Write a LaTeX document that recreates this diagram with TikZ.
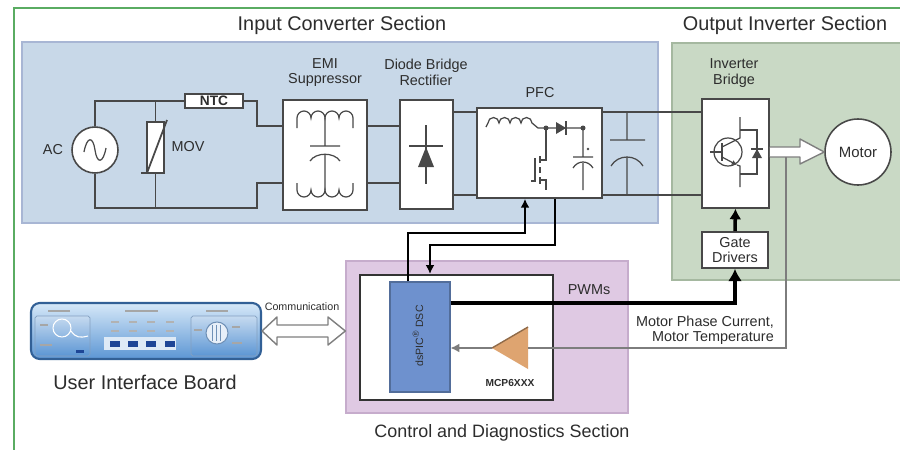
\documentclass[tikz,border=0pt]{standalone}
\usepackage{fontspec}
\setmainfont{Liberation Sans}
\usetikzlibrary{arrows.meta}

\definecolor{inblue}{RGB}{200,216,232}
\definecolor{inblueline}{RGB}{168,182,212}
\definecolor{outgreen}{RGB}{201,217,197}
\definecolor{outgreenline}{RGB}{165,184,160}
\definecolor{ctrlpink}{RGB}{223,201,227}
\definecolor{ctrlpinkline}{RGB}{198,172,204}
\definecolor{dscblue}{RGB}{110,145,206}
\definecolor{ampfill}{RGB}{222,164,112}
\definecolor{framegreen}{RGB}{90,172,98}
\definecolor{wiregray}{RGB}{72,72,72}
\definecolor{fbgray}{RGB}{125,125,125}
\definecolor{txt}{RGB}{45,45,45}
\definecolor{uilight}{RGB}{214,232,248}
\definecolor{uimid}{RGB}{92,150,212}
\definecolor{uiedge}{RGB}{50,96,150}
\definecolor{uidark}{RGB}{30,70,150}

\begin{document}
\begin{tikzpicture}[x=0.02cm, y=-0.02cm,
  wire/.style={draw=wiregray, line width=0.9pt},
  sym/.style={draw=wiregray, line width=0.7pt},
  blk/.style={draw=wiregray, fill=white, line width=0.9pt, inner sep=0pt},
  panel/.style={line width=0.8pt, inner sep=0pt},
  sectitle/.style={font=\fontsize{11.3}{13}\selectfont, text=txt},
  lbl/.style={font=\fontsize{8.2}{8.8}\selectfont, text=txt, align=center},
  ctl/.style={draw=black, line width=1.4pt, -{Latex[length=5pt,width=5pt]}},
  fb/.style={draw=fbgray, line width=0.8pt},
  hollow/.style={draw=wiregray!70, fill=white, line width=0.8pt, line join=round}]

  \useasboundingbox (0,0) rectangle (900,450);
  \fill[white] (0,0) rectangle (900,450);

  % Outer frame
  \draw[framegreen, line width=1.3pt] (14,452) -- (14,8) -- (902,8);

  % Section backgrounds
  \node[panel, fill=inblue, draw=inblueline, minimum width=12.72cm, minimum height=3.62cm] (inpanel) at (340,132.5) {};
  \node[panel, fill=outgreen, draw=outgreenline, minimum width=4.6cm, minimum height=4.74cm] (outpanel) at (787,161.5) {};
  \node[panel, fill=ctrlpink, draw=ctrlpinkline, minimum width=5.64cm, minimum height=3.04cm] (ctrlpanel) at (487,337) {};
  \node[panel, fill=white, draw=black!80, line width=1.2pt, minimum width=3.86cm, minimum height=2.5cm] (ctrl) at (456.5,337.5) {};

  % Section titles
  \node[sectitle] (intitle) at (342,25) {Input Converter Section};
  \node[sectitle] (outtitle) at (785,25) {Output Inverter Section};
  \node[sectitle, font=\fontsize{10.2}{12}\selectfont] (ctrltitle) at (502,433) {Control and Diagnostics Section};
  \node[sectitle] (uititle) at (145,382) {User Interface Board};

  % Power stage blocks
  \node[blk, circle, minimum size=0.92cm] (ac) at (95,150) {};
  \node[blk, minimum width=1.16cm, minimum height=0.28cm, font=\fontsize{7.8}{8}\selectfont\bfseries, text=txt] (ntc) at (214,101) {NTC};
  \node[blk, minimum width=0.34cm, minimum height=1.02cm] (mov) at (155.5,147.5) {};
  \node[blk, minimum width=1.68cm, minimum height=2.2cm] (emi) at (325,155) {};
  \node[blk, minimum width=1.06cm, minimum height=2.18cm] (bridge) at (426.5,154.5) {};
  \node[blk, minimum width=2.5cm, minimum height=1.8cm] (pfc) at (539.5,153) {};
  \node[blk, minimum width=1.34cm, minimum height=2.18cm] (inv) at (735.5,153.5) {};
  \node[blk, lbl, minimum width=1.32cm, minimum height=0.72cm] (gate) at (735,250) {Gate\\Drivers};
  \node[blk, lbl, circle, minimum size=1.32cm, font=\fontsize{8.5}{9}\selectfont] (motor) at (858,152) {Motor};

  % Block labels
  \node[lbl] (aclbl) at (53,150) {AC};
  \node[lbl] (movlbl) at (188,147) {MOV};
  \node[lbl] (emilbl) at (325,72.5) {EMI\\Suppressor};
  \node[lbl] (bridgelbl) at (426,72.5) {Diode Bridge\\Rectifier};
  \node[lbl] (pfclbl) at (540,93) {PFC};
  \node[lbl] (invlbl) at (734,73) {Inverter\\Bridge};

  % AC source
  \draw[sym] (84,152) .. controls (87,136) and (93,136) .. (95,150) .. controls (97,164) and (103,164) .. (106,148);

  % Input wiring
  \draw[wire] (ac.north) |- (ntc.west);
  \draw[wire] (ntc.east) -| (257,126) -- (emi.west |- 0,126);
  \draw[wire] (ac.south) |- (257,208) -- (257,183) -- (emi.west |- 0,183);
  \draw[wire] (mov.north) -- (mov.north |- ntc.west);
  \draw[wire] (mov.south) -- (mov.south |- 0,208);
  \draw[sym, line width=1pt] (141,173) -- (147,173) -- (167,120);
  \draw[wire] (emi.east |- 0,126) -- (bridge.west |- 0,126);
  \draw[wire] (emi.east |- 0,183) -- (bridge.west |- 0,183);
  \draw[wire] (bridge.east |- 0,112) -- (pfc.west |- 0,112);
  \draw[wire] (bridge.east |- 0,195) -- (pfc.west |- 0,195);
  \draw[wire] (pfc.east |- 0,112) -- (inv.west |- 0,112);
  \draw[wire] (pfc.east |- 0,195) -- (inv.west |- 0,195);

  % EMI filter: two chokes and a capacitor
  \draw[sym] (297,128) -- (297,118) \foreach \i in {1,...,4} {arc[start angle=180, end angle=360, radius=7]} -- (353,128);
  \draw[sym] (297,183) -- (297,190) \foreach \i in {1,...,4} {arc[start angle=180, end angle=0, radius=7]} -- (353,183);
  \draw[sym] (325,118) -- (325,146) (310,146) -- (340,146)
    (310,161) .. controls (316,152) and (334,152) .. (340,161) (325,155) -- (325,190);

  % Rectifier diode
  \draw[sym] (426,125) -- (426,184) (409,146) -- (443,146);
  \fill[wiregray] (426,147) -- (418,167) -- (434,167) -- cycle;

  % PFC boost stage
  \coordinate (pj1) at (546,128);
  \coordinate (pj2) at (583,128);
  \draw[sym] (486,127) -- (488,123) \foreach \i in {1,...,4} {arc[start angle=180, end angle=360, radius=5.5]} -- (538,128) -- (pj1) -- (pj2);
  \fill[wiregray] (556,122) -- (566,128) -- (556,134) -- cycle;
  \draw[sym] (566,121) -- (566,135);
  \fill[wiregray] (pj1) circle (2.5) (pj2) circle (2.5);
  \draw[sym] (pj1) -- (546,160) -- (540,160) (540,180) -- (546,180) -- (546,190);
  \draw[sym, line width=1.2pt] (540,156) -- (540,163) (540,167) -- (540,173) (540,177) -- (540,184);
  \draw[sym] (535,158) -- (535,181) -- (531,181);
  \draw[sym] (pj2) -- (583,157) (573,157) -- (593,157)
    (573,168) .. controls (578,160) and (588,160) .. (593,168) (583,163) -- (583,190);
  \fill[wiregray] (588,149) circle (1.3);

  % DC link capacitor
  \draw[sym] (627,112) -- (627,140) (610,140) -- (645,140)
    (611,166) .. controls (618,154) and (636,154) .. (643,166) (627,157) -- (627,195);

  % IGBT with freewheeling diode
  \draw[sym] (728,152) circle (14);
  \draw[sym] (710,152) -- (722,152);
  \draw[sym, line width=1.2pt] (722,143) -- (722,161);
  \draw[sym] (722,147) -- (740,138) -- (740,117);
  \draw[sym, -{Latex[length=3pt,width=3pt]}] (722,157) -- (737,165);
  \draw[sym] (737,165) -- (740,166) -- (740,187);
  \draw[sym] (740,130) -- (757,130) -- (757,174) -- (740,174);
  \fill[wiregray] (757,149) -- (752,158) -- (762,158) -- cycle;
  \draw[sym] (751,149) -- (763,149);

  % Power to the motor
  \draw[hollow] (inv.east |- 0,147) -- (800,147) -- (800,139) -- (motor.west) -- (800,164) -- (800,157) -- (inv.east |- 0,157);
  \draw[black, line width=2pt, -{Latex[length=6pt,width=7pt]}] (gate.north) -- (inv.south);

  % Controller
  \node[draw=dscblue!75!black, fill=dscblue, line width=0.6pt, minimum width=1.2cm, minimum height=2.2cm, inner sep=0pt] (dsc) at (420,337) {};
  \node[rotate=90, font=\fontsize{6}{6}\selectfont, text=txt] (dsclbl) at (418,336) {dsPIC\textsuperscript{\textregistered} DSC};

  \coordinate (ampout) at (492,348);
  \coordinate (ampin) at (528,348);
  \fill[ampfill] (ampout) -- (528,327) -- (528,369) -- cycle;
  \draw[ampfill!65!black, line width=0.8pt] (ampout) -- (528,327);
  \node[font=\fontsize{5.8}{6}\selectfont\bfseries, text=txt] (amplbl) at (510,383) {MCP6XXX};

  % Control signals
  \draw[ctl] (408,0 |- dsc.north) |- (525,233) -- (525,0 |- pfc.south);
  \draw[ctl] (555,0 |- pfc.south) |- (430,245) -- (430,0 |- ctrl.north);
  \draw[black, line width=2.3pt, -{Latex[length=7pt,width=8pt]}] (dsc.east |- 0,303) -| (gate.south);
  \node[lbl] (pwmlbl) at (589,290) {PWMs};

  % Current and temperature feedback
  \coordinate (tap) at (786,157);
  \draw[fb] (tap) -- (786,348) -- (ampin);
  \draw[fb, -{Latex[length=5pt,width=5pt]}] (ampout) -- (dsc.east |- ampout);
  \node[lbl, align=right, anchor=east] (fblbl) at (780,330.5) {Motor Phase Current,\\Motor Temperature};

  % User interface board
  \node[draw=uiedge, line width=1.2pt, rounded corners=5pt, top color=uilight, bottom color=uimid, minimum width=4.6cm, minimum height=1.12cm] (ui) at (146,331) {};
  \draw[uiedge!60, top color=white!65!uimid, bottom color=uimid, rounded corners=1pt] (35,316) rectangle (90,356);
  \draw[uiedge!60, top color=white!65!uimid, bottom color=uimid, rounded corners=1pt] (191,316) rectangle (257,356);
  \draw[white, line width=0.6pt] (62,328) circle (9) (71,331) .. controls (76,338) and (80,338) .. (88,336);
  \fill[uidark] (76,350) rectangle (84,353);
  \draw[gray!70, line width=0.8pt] (48,311) -- (70,311) (40,325) -- (48,325) (40,345) -- (52,345)
    (125,311) -- (158,311) (206,311) -- (228,311) (194,330) -- (202,330) (232,327) -- (240,327) (232,343) -- (242,343);
  \fill[white!80!uimid] (104,337) rectangle (176,350);
  \foreach \x in {115,133,151,170} {
    \draw[gray!60, line width=0.6pt] (\x-4,322) -- (\x+4,322) (\x-4,331) -- (\x+4,331);
    \fill[uidark] (\x-5,341) rectangle (\x+5,347);
  }
  \draw[uiedge!70, fill=white!85!uimid, line width=0.6pt] (217,333) circle (11);
  \foreach \d in {-5,-1,3} \draw[uiedge!70, line width=0.5pt] (217+\d,325) -- (217+\d,341);

  % Link to the user interface
  \draw[hollow] (ui.east) -- (277,317) -- (277,325) -- (328,325) -- (328,317) -- (ctrlpanel.west |- ui.east)
    -- (328,345) -- (328,337) -- (277,337) -- (277,345) -- cycle;
  \node[font=\fontsize{6.1}{7}\selectfont, text=txt] (commlbl) at (302,307) {Communication};
\end{tikzpicture}
\end{document}
